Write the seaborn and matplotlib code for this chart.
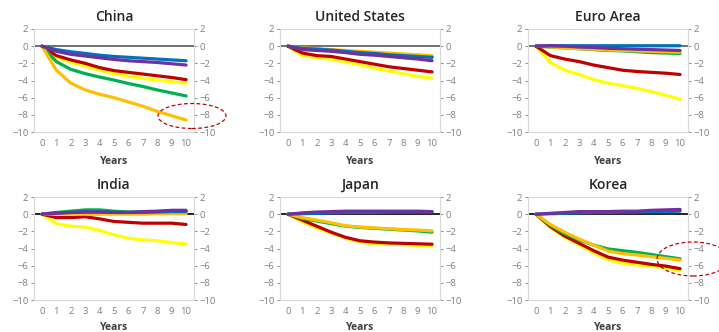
import pandas as pd
import matplotlib.pyplot as plt
import seaborn as sns
from matplotlib.patches import Ellipse

# Data
years = list(range(11))
series_names = ["yellow", "red", "green", "orange", "blue", "purple"]
colors = {"yellow": "#FFFF00", "red": "#C00000", "green": "#00B050",
          "orange": "#FFC000", "blue": "#0070C0", "purple": "#7030A0"}

china = {
    "blue":   [0, -0.4, -0.65, -0.85, -1.05, -1.2, -1.3, -1.4, -1.5, -1.6, -1.7],
    "purple": [0, -0.6, -0.95, -1.15, -1.35, -1.55, -1.7, -1.8, -1.9, -2.05, -2.2],
    "red":    [0, -1.1, -1.6, -2.0, -2.5, -2.85, -3.05, -3.25, -3.45, -3.65, -3.9],
    "yellow": [0, -1.3, -1.9, -2.3, -2.8, -3.2, -3.5, -3.75, -3.95, -4.15, -4.3],
    "green":  [0, -1.8, -2.7, -3.2, -3.6, -3.95, -4.35, -4.7, -5.1, -5.45, -5.8],
    "orange": [0, -2.8, -4.3, -5.1, -5.6, -6.0, -6.5, -7.0, -7.6, -8.1, -8.6],
}
united_states = {
    "orange": [0, -0.2, -0.3, -0.4, -0.5, -0.6, -0.7, -0.8, -0.9, -1.0, -1.1],
    "blue":   [0, -0.25, -0.35, -0.45, -0.6, -0.75, -0.85, -1.0, -1.1, -1.2, -1.3],
    "green":  [0, -0.25, -0.35, -0.45, -0.6, -0.75, -0.85, -0.95, -1.05, -1.15, -1.25],
    "purple": [0, -0.4, -0.5, -0.6, -0.75, -0.95, -1.05, -1.2, -1.35, -1.5, -1.7],
    "red":    [0, -0.8, -1.1, -1.2, -1.5, -1.8, -2.1, -2.4, -2.6, -2.8, -3.0],
    "yellow": [0, -1.1, -1.35, -1.5, -1.85, -2.15, -2.55, -2.9, -3.2, -3.5, -3.75],
}
euro_area = {
    "blue":   [0, 0.05, 0.05, 0.05, 0.05, 0.05, 0.05, 0.05, 0.05, 0.05, 0.05],
    "purple": [0, 0.05, 0.0, -0.1, -0.15, -0.25, -0.3, -0.35, -0.4, -0.45, -0.5],
    "orange": [0, -0.1, -0.2, -0.3, -0.35, -0.45, -0.5, -0.55, -0.6, -0.65, -0.7],
    "green":  [0, -0.1, -0.2, -0.3, -0.4, -0.5, -0.55, -0.65, -0.75, -0.8, -0.85],
    "red":    [0, -1.1, -1.5, -1.8, -2.2, -2.5, -2.8, -2.95, -3.05, -3.15, -3.3],
    "yellow": [0, -1.9, -2.8, -3.3, -3.9, -4.3, -4.6, -4.9, -5.3, -5.7, -6.2],
}
india = {
    "green":  [0, 0.2, 0.35, 0.5, 0.5, 0.35, 0.25, 0.25, 0.3, 0.35, 0.35],
    "blue":   [0, 0.15, 0.2, 0.25, 0.25, 0.2, 0.2, 0.2, 0.25, 0.3, 0.3],
    "purple": [0, 0.1, 0.2, 0.25, 0.25, 0.2, 0.2, 0.3, 0.35, 0.45, 0.45],
    "orange": [0, 0.0, 0.0, 0.0, 0.0, 0.0, 0.0, 0.0, 0.05, 0.05, 0.05],
    "red":    [0, -0.4, -0.4, -0.3, -0.55, -0.85, -0.95, -1.05, -1.05, -1.05, -1.2],
    "yellow": [0, -1.1, -1.4, -1.5, -1.9, -2.4, -2.8, -3.0, -3.1, -3.3, -3.5],
}
japan = {
    "purple": [0, 0.15, 0.25, 0.3, 0.35, 0.35, 0.35, 0.35, 0.35, 0.35, 0.3],
    "blue":   [0, 0.05, 0.1, 0.15, 0.2, 0.2, 0.2, 0.25, 0.25, 0.25, 0.25],
    "green":  [0, -0.5, -0.8, -1.1, -1.4, -1.55, -1.65, -1.75, -1.85, -1.95, -2.1],
    "orange": [0, -0.4, -0.7, -1.0, -1.35, -1.5, -1.6, -1.7, -1.8, -1.85, -1.95],
    "red":    [0, -0.7, -1.4, -2.1, -2.7, -3.1, -3.25, -3.35, -3.4, -3.45, -3.5],
    "yellow": [0, -0.9, -1.6, -2.2, -2.8, -3.25, -3.45, -3.5, -3.55, -3.65, -3.75],
}
korea = {
    "purple": [0, 0.1, 0.2, 0.3, 0.3, 0.3, 0.35, 0.35, 0.45, 0.5, 0.55],
    "blue":   [0, 0.05, 0.1, 0.15, 0.2, 0.2, 0.25, 0.25, 0.3, 0.3, 0.35],
    "green":  [0, -1.3, -2.3, -3.0, -3.6, -4.05, -4.25, -4.45, -4.7, -4.95, -5.2],
    "orange": [0, -1.2, -2.1, -2.9, -3.6, -4.3, -4.6, -4.75, -4.95, -5.15, -5.35],
    "red":    [0, -1.45, -2.55, -3.4, -4.25, -5.0, -5.35, -5.6, -5.85, -6.05, -6.35],
    "yellow": [0, -1.55, -2.7, -3.6, -4.5, -5.3, -5.7, -5.9, -6.05, -6.25, -6.6],
}

panels = [("China", china), ("United States", united_states), ("Euro Area", euro_area),
          ("India", india), ("Japan", japan), ("Korea", korea)]
zero_colors = ["#595959", "#595959", "#595959", "black", "black", "black"]

sns.set_style("white")
plt.rcParams["font.family"] = ["Open Sans", "DejaVu Sans"]

fig = plt.figure(figsize=(7.19, 3.32), dpi=100)

lefts = [34, 280, 528]
tops = [29, 197]
w, h = 160, 103

for i, (name, d) in enumerate(panels):
    col, row = i % 3, i // 3
    ax = fig.add_axes([lefts[col] / 719, 1 - (tops[row] + h) / 332, w / 719, h / 332])

    rows = []
    for s in series_names:
        for yr, v in zip(years, d[s]):
            rows.append({"year": yr, "value": v, "series": s})
    df = pd.DataFrame(rows)

    ax.axhline(0, color=zero_colors[i], lw=1.2, zorder=1)
    sns.lineplot(data=df, x="year", y="value", hue="series", hue_order=series_names,
                 palette=colors, lw=2.3, legend=False, ax=ax, zorder=2)

    ax.set_xlim(-0.55, 10.55)
    ax.set_ylim(-10, 2)
    ax.set_xticks(years)
    ax.set_yticks(range(-10, 3, 2))
    ax.tick_params(axis="both", labelsize=6.8, colors="#7f7f7f", length=2, width=0.6, pad=2)
    ax.tick_params(axis="x", length=0, pad=5)
    ax.tick_params(axis="y", right=True, labelright=True, left=True)
    for sp in ax.spines.values():
        sp.set_color("#d9d9d9")
        sp.set_linewidth(0.8)
    # bottom row label sits at the lower edge; keep it just inside
    ax.set_xlabel("Years", fontsize=7.5, fontweight="bold", color="#404040",
                  labelpad=6 if row == 0 else 4)
    ax.set_ylabel("")
    ax.set_title(name, fontsize=10, fontweight="semibold", color="#262626", pad=6)

# dashed highlight circles
fig.add_artist(Ellipse((192 / 719, 1 - 116 / 332), 68 / 719, 25 / 332, fill=False,
                       ec="#C00000", ls=(0, (3, 2)), lw=0.9, transform=fig.transFigure))
fig.add_artist(Ellipse((693 / 719, 1 - 259 / 332), 72 / 719, 34 / 332, fill=False,
                       ec="#C00000", ls=(0, (3, 2)), lw=0.9, transform=fig.transFigure))

plt.savefig("out.png", dpi=100)
